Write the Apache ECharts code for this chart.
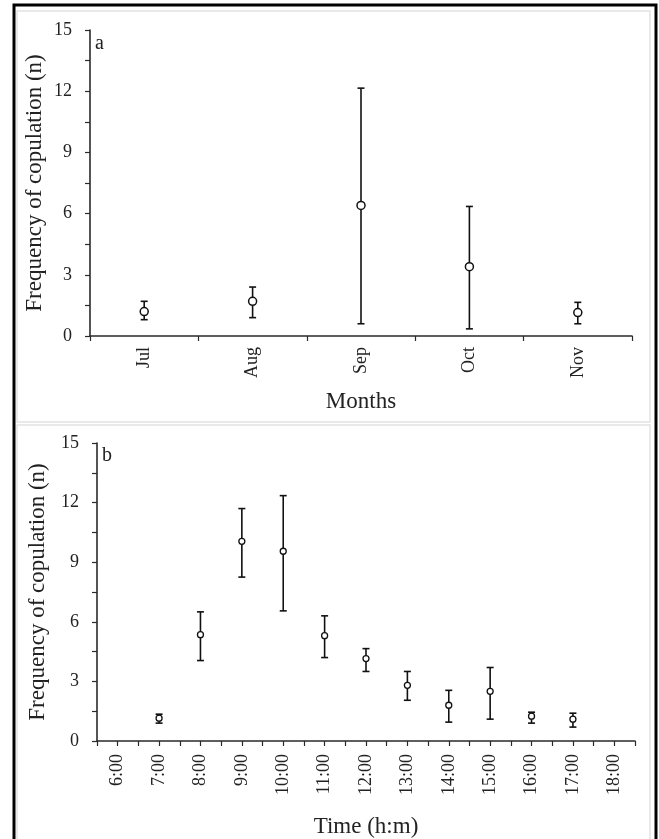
<!DOCTYPE html>
<html>
<head>
<meta charset="utf-8">
<script src="https://cdn.jsdelivr.net/npm/echarts@6/dist/echarts.min.js"></script>
<style>html,body{margin:0;padding:0;background:#fff;}#c{width:659px;height:839px;}</style>
</head>
<body>
<div id="c"></div>
<script>
// Panel a data
var months = ['Jul', 'Aug', 'Sep', 'Oct', 'Nov'];
var monthMean = [1.2, 1.7, 6.4, 3.4, 1.15];
var monthLow = [0.8, 0.9, 0.6, 0.35, 0.6];
var monthHigh = [1.7, 2.4, 12.15, 6.35, 1.65];

// Panel b data
var hours = [7, 8, 9, 10, 11, 12, 13, 14, 15, 16, 17];
var hourMean = [1.15, 5.35, 10.05, 9.55, 5.3, 4.15, 2.8, 1.8, 2.5, 1.25, 1.1];
var hourLow = [0.9, 4.05, 8.25, 6.55, 4.2, 3.5, 2.05, 0.95, 1.1, 0.9, 0.7];
var hourHigh = [1.35, 6.5, 11.7, 12.35, 6.3, 4.65, 3.5, 2.55, 3.7, 1.45, 1.4];

// Tick labels
var yTicks = [0, 3, 6, 9, 12, 15];
var hourLabels = ['6:00', '7:00', '8:00', '9:00', '10:00', '11:00', '12:00', '13:00', '14:00', '15:00', '16:00', '17:00', '18:00'];
var hourStart = 6;

var FONT = 'Liberation Serif';
var AX = '#2a2a2a';

var chart = echarts.init(document.getElementById('c'), null, {renderer: 'canvas'});

function errRender(cap) {
  return function (params, api) {
    var x = api.value(0), lo = api.value(1), hi = api.value(2);
    var p1 = api.coord([x, lo]);
    var p2 = api.coord([x, hi]);
    var st = {stroke: '#111', lineWidth: 1.6};
    return {
      type: 'group',
      children: [
        {type: 'line', shape: {x1: p1[0], y1: p1[1], x2: p2[0], y2: p2[1]}, style: st},
        {type: 'line', shape: {x1: p1[0] - cap, y1: p1[1], x2: p1[0] + cap, y2: p1[1]}, style: st},
        {type: 'line', shape: {x1: p2[0] - cap, y1: p2[1], x2: p2[0] + cap, y2: p2[1]}, style: st}
      ]
    };
  };
}

function yAxis(gridIndex, gap) {
  return {
    type: 'value', gridIndex: gridIndex, min: yTicks[0], max: yTicks[yTicks.length - 1], interval: 3,
    name: 'Frequency of copulation (n)', nameLocation: 'middle', nameGap: gap, nameMoveOverlap: false,
    nameTextStyle: {fontFamily: FONT, fontSize: 23, color: '#222'},
    axisLine: {show: true, lineStyle: {color: AX, width: 1.6}},
    axisTick: {show: true, inside: false, length: 5, lineStyle: {color: AX, width: 1.2}},
    minorTick: {show: true, splitNumber: 2, length: 5, lineStyle: {color: AX, width: 1.2}},
    splitLine: {show: false},
    axisLabel: {fontFamily: FONT, fontSize: 18, color: '#222', margin: 18}
  };
}

var monthErr = months.map(function (m, i) { return [m, monthLow[i], monthHigh[i]]; });
var monthPts = months.map(function (m, i) { return [m, monthMean[i]]; });
var hourErr = hours.map(function (h, i) { return [h, hourLow[i], hourHigh[i]]; });
var hourPts = hours.map(function (h, i) { return [h, hourMean[i]]; });

chart.setOption({
  animation: false,
  backgroundColor: '#fff',
  graphic: [
    {type: 'rect', shape: {x: 17, y: 11, width: 633, height: 411}, style: {fill: 'none', stroke: '#e2e2e2', lineWidth: 1.5}, z: -1},
    {type: 'rect', shape: {x: 17, y: 425, width: 633, height: 416}, style: {fill: 'none', stroke: '#e2e2e2', lineWidth: 1.5}, z: -1},
    {type: 'rect', shape: {x: 14, y: 5, width: 642, height: 840}, style: {fill: 'none', stroke: '#000', lineWidth: 3}, z: 10},
    {type: 'text', left: 95, top: 34, style: {text: 'a', fontFamily: FONT, fontSize: 20, fill: '#222'}},
    {type: 'text', left: 102, top: 446, style: {text: 'b', fontFamily: FONT, fontSize: 20, fill: '#222'}}
  ],
  grid: [
    {left: 90, top: 30, right: 27, height: 306},
    {left: 97, top: 443, right: 24, height: 299}
  ],
  xAxis: [
    {
      type: 'category', gridIndex: 0, data: months, boundaryGap: true,
      name: 'Months', nameLocation: 'middle', nameGap: 54,
      nameTextStyle: {fontFamily: FONT, fontSize: 23, color: '#222'},
      axisLine: {lineStyle: {color: AX, width: 1.6}},
      axisTick: {show: true, length: 5, alignWithLabel: false, lineStyle: {color: AX, width: 1.2}},
      axisLabel: {fontFamily: FONT, fontSize: 18, color: '#222', rotate: 90, margin: 11}
    },
    {
      type: 'value', gridIndex: 1, min: hourStart - 0.5, max: hourStart + hourLabels.length - 0.5, interval: 0.5,
      name: 'Time (h:m)', nameLocation: 'middle', nameGap: 74,
      nameTextStyle: {fontFamily: FONT, fontSize: 23, color: '#222'},
      axisLine: {onZero: false, lineStyle: {color: AX, width: 1.6}},
      axisTick: {show: true, length: 5, lineStyle: {color: AX, width: 1.2}},
      splitLine: {show: false},
      axisLabel: {
        fontFamily: FONT, fontSize: 18, color: '#222', rotate: 90, margin: 13,
        showMinLabel: true, showMaxLabel: true,
        formatter: function (v) {
          var k = Math.round((v - hourStart) * 2);
          if (k % 2 !== 0 || k < 0) return '';
          return hourLabels[k / 2] || '';
        }
      }
    }
  ],
  yAxis: [yAxis(0, 44), yAxis(1, 48)],
  series: [
    {type: 'custom', xAxisIndex: 0, yAxisIndex: 0, renderItem: errRender(3.5), data: monthErr, encode: {x: 0, y: [1, 2]}},
    {type: 'scatter', xAxisIndex: 0, yAxisIndex: 0, data: monthPts, symbol: 'circle', symbolSize: 8,
      itemStyle: {color: '#fff', borderColor: '#111', borderWidth: 1.5, opacity: 1}, z: 5},
    {type: 'custom', xAxisIndex: 1, yAxisIndex: 1, renderItem: errRender(3.5), data: hourErr, encode: {x: 0, y: [1, 2]}},
    {type: 'scatter', xAxisIndex: 1, yAxisIndex: 1, data: hourPts, symbol: 'circle', symbolSize: 6,
      itemStyle: {color: '#fff', borderColor: '#111', borderWidth: 1.3, opacity: 1}, z: 5}
  ]
});
</script>
</body>
</html>
